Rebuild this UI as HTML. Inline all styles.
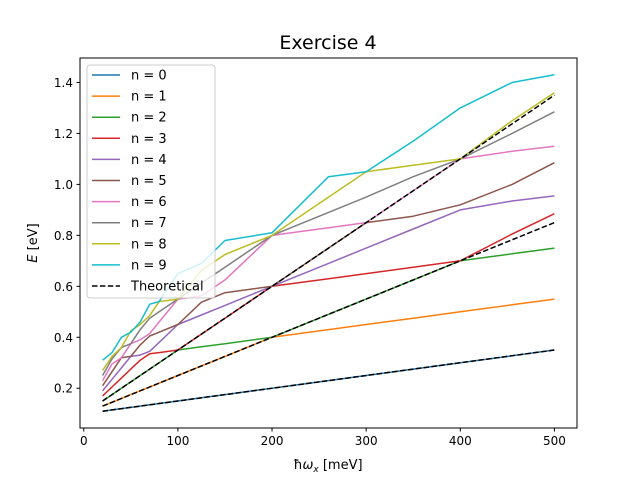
<!DOCTYPE html>
<html><head><meta charset="utf-8"><style>
body{margin:0;background:#fff}
svg{font-family:"DejaVu Sans","Liberation Sans",sans-serif}
</style></head><body>
<svg id="chart" width="640" height="480" viewBox="0 0 640 480">
<rect width="640" height="480" fill="#fff"/>
<text x="328" y="49" font-size="19" text-anchor="middle">Exercise 4</text>
<g id="plot"></g>
<rect x="80" y="58" width="497" height="370" fill="none" stroke="#000" stroke-width="1"/>
<g id="xticks"></g>
<g id="yticks"></g>
<text x="328" y="469" font-size="13" text-anchor="middle">ħ<tspan font-style="italic">ω</tspan><tspan font-size="9" font-style="italic" dy="3">x</tspan><tspan dy="-3"> [meV]</tspan></text>
<text transform="translate(37,243) rotate(-90)" font-size="13" text-anchor="middle"><tspan font-style="italic">E</tspan> [eV]</text>
<g id="legend"></g>
</svg>
<script>
const xs = [20,30,40,50,60,70,80,100,125,150,200,260,300,350,400,455,500];
const n0 = [.11,.115,.12,.125,.13,.135,.14,.15,.1625,.175,.2,.23,.25,.275,.3,.3275,.35];
const n1 = [.13,.145,.16,.175,.19,.205,.22,.25,.2875,.325,.4,.43,.45,.475,.5,.5275,.55];
const n2 = [.15,.175,.20,.225,.25,.275,.30,.35,.3625,.375,.4,.49,.55,.625,.7,.7275,.75];
const n3 = [.17,.205,.24,.275,.31,.335,.34,.35,.4125,.475,.6,.63,.65,.675,.7,.805,.885];
const n4 = [.19,.235,.28,.325,.33,.345,.38,.45,.4875,.525,.6,.69,.75,.825,.9,.935,.955];
const n5 = [.21,.265,.32,.325,.37,.405,.42,.45,.5375,.575,.6,.75,.85,.875,.92,1.0,1.085];
const n6 = [.23,.295,.32,.375,.39,.415,.46,.55,.5625,.625,.8,.83,.85,.975,1.1,1.13,1.15];
const n7 = [.25,.315,.36,.375,.43,.475,.50,.55,.6125,.675,.8,.89,.95,1.03,1.1,1.2,1.285];
const n8 = [.27,.325,.36,.425,.45,.485,.54,.55,.6625,.725,.8,.95,1.05,1.075,1.1,1.25,1.36];
const n9 = [.31,.34,.40,.42,.46,.53,.54,.65,.69,.78,.81,1.03,1.05,1.17,1.30,1.40,1.43];
const thX = [20,500];
const th0 = [.11,.35];
const th1 = [.13,.85];
const th2 = [.15,1.35];
const xTickVals = [0,100,200,300,400,500];
const yTickVals = [0.2,0.4,0.6,0.8,1.0,1.2,1.4];
const labels = ["n = 0","n = 1","n = 2","n = 3","n = 4","n = 5","n = 6","n = 7","n = 8","n = 9"];
const colors = ["#1f77b4","#ff7f0e","#2ca02c","#d62728","#9467bd","#8c564b","#e377c2","#7f7f7f","#bcbd22","#17becf"];
const series = [n0,n1,n2,n3,n4,n5,n6,n7,n8,n9];
const NS="http://www.w3.org/2000/svg";
const L=80,R=577,T=58,B=428,X0=-4,X1=524,Y0=0.044,Y1=1.496;
function sx(v){return L+(v-X0)/(X1-X0)*(R-L);}
function sy(v){return B-(v-Y0)/(Y1-Y0)*(B-T);}
function mk(tag,attrs,parent){const e=document.createElementNS(NS,tag);for(const k in attrs)e.setAttribute(k,attrs[k]);parent.appendChild(e);return e;}
const plot=document.getElementById('plot');
series.forEach((s,i)=>{
  const p=mk('polyline',{points:s.map((v,j)=>sx(xs[j]).toFixed(1)+','+sy(v).toFixed(1)).join(' '),fill:'none',stroke:colors[i],'stroke-width':1.5,'stroke-linejoin':'round'},plot);
  
  
});
[th0,th1,th2].forEach((s,i)=>{
  const p=mk('polyline',{points:s.map((v,j)=>sx(thX[j]).toFixed(1)+','+sy(v).toFixed(1)).join(' '),fill:'none',stroke:'#000','stroke-width':1.5,'stroke-dasharray':'5.5,2.4'},plot);
  
  
});
const xt=document.getElementById('xticks');
xTickVals.forEach(v=>{
  const l=mk('line',{x1:sx(v),x2:sx(v),y1:B,y2:B+3.5,stroke:'#000'},xt);
  
  
  const t=mk('text',{x:sx(v),y:B+17,'font-size':12,'text-anchor':'middle'},xt);
  t.textContent=v;
  
  
});
const yt=document.getElementById('yticks');
yTickVals.forEach(v=>{
  const l=mk('line',{x1:L-3.5,x2:L,y1:sy(v),y2:sy(v),stroke:'#000'},yt);
  
  
  const t=mk('text',{x:L-7,y:sy(v)+4.5,'font-size':12,'text-anchor':'end'},yt);
  t.textContent=v.toFixed(1);
  
  
});
const lg=document.getElementById('legend');
const box=mk('rect',{x:87,y:65,width:128,height:233,rx:3,fill:'#fff','fill-opacity':0.8,stroke:'#ccc'},lg);


const entries=labels.map((s,i)=>({s,c:colors[i],d:false})).concat([{s:'Theoretical',c:'#000',d:true}]);
entries.forEach((e,i)=>{
  const y=75+i*21.1;
  const l=mk('line',{x1:92,x2:120,y1:y,y2:y,stroke:e.c,'stroke-width':1.5},lg);
  if(e.d)l.setAttribute('stroke-dasharray','5.5,2.4');
  
  
  const t=mk('text',{x:131,y:y+4.5,'font-size':13},lg);
  t.textContent=e.s;
  
  
});
</script>
</body></html>
